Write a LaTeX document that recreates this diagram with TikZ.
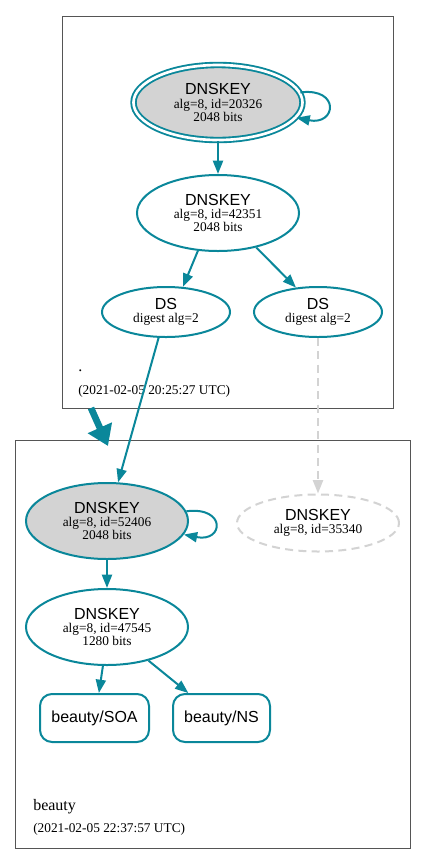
\documentclass[tikz,border=0pt]{standalone}
\usepackage{fontspec}
\setmainfont{Liberation Serif}
\setsansfont{Liberation Sans}
\usepackage{xcolor}
\usetikzlibrary{shapes.geometric, arrows.meta}
\definecolor{dnsteal}{HTML}{0A879A}
\definecolor{keygray}{HTML}{D3D3D3}
\definecolor{zoneline}{HTML}{555555}

\begin{document}
\begin{tikzpicture}[x=0.75pt, y=-0.75pt,
  zonebox/.style={draw=zoneline, line width=0.75pt},
  keynode/.style={ellipse, draw=dnsteal, line width=1.5pt, inner sep=0pt, align=center,
    minimum width=121.5pt, minimum height=57pt, font=\fontsize{10}{10}\selectfont},
  sepkey/.style={keynode, fill=keygray},
  dsnode/.style={keynode, minimum width=96pt, minimum height=37.5pt},
  rrset/.style={draw=dnsteal, line width=1.5pt, rounded corners=9pt, minimum height=36pt,
    inner xsep=0pt, font=\sffamily\fontsize{12}{12}\selectfont},
  zonename/.style={anchor=base west, inner sep=0pt, font=\fontsize{12}{12}\selectfont},
  stamp/.style={anchor=base west, inner sep=0pt, font=\fontsize{10}{10}\selectfont},
  arrow/.style={-{Triangle[length=10pt, width=7.5pt]}, dnsteal, line width=1.5pt},
  deleg/.style={-{Triangle[length=15pt, width=19pt]}, dnsteal, line width=5pt}
]
\useasboundingbox (0,0) rectangle (427,865);

% zones
\draw[zonebox] (62,16) rectangle (393,408);
\draw[zonebox] (15,440) rectangle (410,848);

\node[zonename] (rootname) at (78,371) {.};
\node[stamp] (rootstamp) at (78,394.5) {(2021-02-05 20:25:27 UTC)};
\node[zonename] (beautyname) at (33,810) {beauty};
\node[stamp] (beautystamp) at (33,832) {(2021-02-05 22:37:57 UTC)};

% root zone
\node[sepkey, double=white, double distance=2pt, line width=1.4pt,
  minimum width=126.75pt, minimum height=56.25pt] (ksk) at (218,102.5)
  {{\sffamily\fontsize{12}{12}\selectfont DNSKEY}\\alg=8, id=20326\\2048 bits};
\node[keynode] (zsk) at (218,213)
  {{\sffamily\fontsize{12}{12}\selectfont DNSKEY}\\alg=8, id=42351\\2048 bits};
\node[dsnode] (dsa) at (166,312)
  {{\sffamily\fontsize{12}{12}\selectfont DS}\\digest alg=2};
\node[dsnode] (dsb) at (318,312)
  {{\sffamily\fontsize{12}{12}\selectfont DS}\\digest alg=2};

% beauty zone
\node[sepkey, minimum height=57pt] (bksk) at (107,521)
  {{\sffamily\fontsize{12}{12}\selectfont DNSKEY}\\alg=8, id=52406\\2048 bits};
\node[keynode, draw=keygray, dash pattern=on 6pt off 4pt, minimum height=42.75pt] (bmiss) at (318,523)
  {{\sffamily\fontsize{12}{12}\selectfont DNSKEY}\\alg=8, id=35340};
\node[keynode] (bzsk) at (107,627)
  {{\sffamily\fontsize{12}{12}\selectfont DNSKEY}\\alg=8, id=47545\\1280 bits};
\node[rrset, minimum width=81.75pt] (soa) at (94.5,718) {beauty/SOA};
\node[rrset, minimum width=72.75pt] (ns) at (221.5,718) {beauty/NS};

\coordinate (delegfrom) at (91,408);
\coordinate (delegto) at (108,446);

\draw[arrow] (ksk.7) .. controls +(40,-5) and +(40,8) .. (ksk.-11);
\draw[arrow] (ksk) -- (zsk);
\draw[arrow] (zsk.-118) -- (dsa.56);
\draw[arrow] (zsk.-42) -- (dsb.132);
\draw[arrow] (dsa.-106) -- (bksk.74);
\draw[arrow, keygray, dash pattern=on 6pt off 4pt] (dsb) -- (bmiss);
\draw[deleg] (delegfrom) -- (delegto);
\draw[arrow] (bksk.7) .. controls +(40,-5) and +(40,8) .. (bksk.-10);
\draw[arrow] (bksk) -- (bzsk);
\draw[arrow] (bzsk.-96) -- (soa.80);
\draw[arrow] (bzsk.-39) -- (ns.143);
\end{tikzpicture}
\end{document}
